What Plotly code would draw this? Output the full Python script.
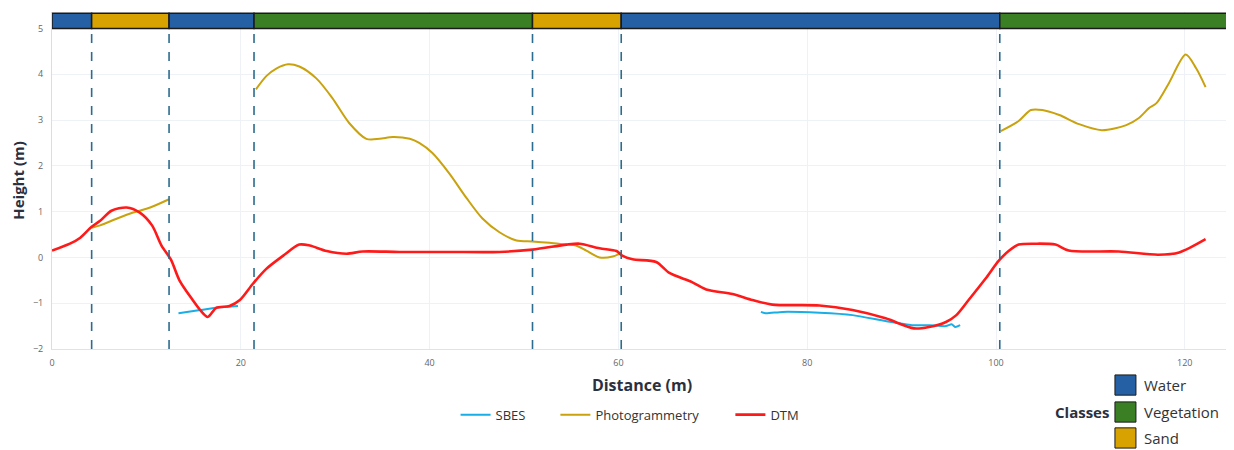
import plotly.graph_objects as go

# ---------------- data ----------------
dtm_x = [0, 1.9, 3.0, 4.2, 5.1, 6.3, 7.9, 9.3, 10.6, 11.6, 12.6, 13.5, 14.9, 15.7, 16.5,
         17.4, 18.8, 19.9, 21.3, 22.7, 24.5, 26.2, 27.3, 29.1, 31.2, 32.9, 36.8, 42.0, 47.4,
         50.9, 54.5, 55.9, 58.0, 59.8, 60.4, 61.5, 64.0, 65.4, 67.8, 69.3, 72.1, 74.2, 76.3,
         81.3, 84.8, 88.3, 91.3, 92.9, 94.7, 95.8, 97.1, 98.9, 100.3, 101.4, 102.4, 104.2,
         106.3, 107.7, 113.0, 117.2, 119.4, 122.2]
dtm_y = [0.15, 0.30, 0.43, 0.67, 0.80, 1.02, 1.09, 0.98, 0.70, 0.26, -0.05, -0.50, -0.93, -1.15, -1.30,
         -1.10, -1.06, -0.93, -0.57, -0.25, 0.04, 0.28, 0.26, 0.14, 0.08, 0.13, 0.12, 0.12, 0.12,
         0.17, 0.28, 0.30, 0.20, 0.14, 0.04, -0.04, -0.10, -0.34, -0.54, -0.70, -0.80, -0.93, -1.03,
         -1.05, -1.15, -1.33, -1.55, -1.52, -1.41, -1.26, -0.93, -0.46, -0.07, 0.15, 0.28, 0.30,
         0.28, 0.15, 0.13, 0.06, 0.11, 0.40]

photo_x = [4.2, 5.1, 6.9, 8.6, 10.4, 12.4, None,
           21.6, 22.7, 23.8, 25.0, 26.2, 28.0, 29.7, 31.5, 33.3, 34.7, 36.1, 37.9, 38.9, 40.3,
           42.1, 43.9, 45.6, 47.4, 49.2, 50.9, 52.7, 54.5, 55.5, 56.6, 58.0, 59.4, 60.3, None,
           100.5, 102.4, 103.7, 104.9, 106.7, 108.8, 111.2, 113.8, 115.1, 116.2, 117.0, 118.3,
           120.1, 121.2, 122.2]
photo_y = [0.65, 0.70, 0.85, 0.98, 1.09, 1.27, None,
           3.67, 3.96, 4.13, 4.22, 4.17, 3.91, 3.48, 2.93, 2.59, 2.59, 2.63, 2.59, 2.50, 2.28,
           1.83, 1.30, 0.85, 0.55, 0.37, 0.35, 0.32, 0.28, 0.26, 0.15, 0.00, 0.02, 0.10, None,
           2.76, 2.98, 3.22, 3.22, 3.11, 2.91, 2.78, 2.89, 3.04, 3.26, 3.37, 3.80,
           4.43, 4.13, 3.72]

sbes_x = [13.4, 15.7, 17.8, 19.7, None,
          75.1, 75.6, 77.4, 81.3, 84.8, 88.3, 91.1, 92.9, 94.7, 95.3, 95.7, 96.2]
sbes_y = [-1.22, -1.15, -1.09, -1.06, None,
          -1.19, -1.22, -1.19, -1.21, -1.26, -1.39, -1.48, -1.48, -1.50, -1.46, -1.52, -1.48]

class_start = [0, 4.2, 12.4, 21.4, 50.9, 60.3, 100.4]
class_end = [4.2, 12.4, 21.4, 50.9, 60.3, 100.4, 125]
class_name = ["Water", "Sand", "Water", "Vegetation", "Sand", "Water", "Vegetation"]
boundaries = [4.2, 12.4, 21.4, 50.9, 60.3, 100.4]

legend_classes = ["Water", "Vegetation", "Sand"]
class_colors = {"Water": "#2660a4", "Vegetation": "#3b7f25", "Sand": "#d8a300"}

FONT = "Open Sans"

fig = go.Figure()
fig.add_trace(go.Scatter(x=sbes_x, y=sbes_y, mode="lines", name="SBES", legend="legend",
                         line=dict(color="#19aee6", width=2, shape="spline", smoothing=0.6),
                         connectgaps=False))
fig.add_trace(go.Scatter(x=photo_x, y=photo_y, mode="lines", name="Photogrammetry", legend="legend2",
                         line=dict(color="#c9a20e", width=2, shape="spline", smoothing=0.8),
                         connectgaps=False))
fig.add_trace(go.Scatter(x=dtm_x, y=dtm_y, mode="lines", name="DTM", legend="legend3",
                         line=dict(color="#ff1a1a", width=2.6, shape="spline", smoothing=0.8)))

shapes = []
for b in boundaries:
    shapes.append(dict(type="line", xref="x", yref="y", x0=b, x1=b, y0=-2, y1=5,
                       line=dict(color="#2b6c8f", width=1.6, dash="dash"), layer="above"))
for s, e, n in zip(class_start, class_end, class_name):
    shapes.append(dict(type="rect", xref="x", yref="y", x0=s, x1=e, y0=5.0, y1=5.33,
                       fillcolor=class_colors[n], line=dict(color="#1a1a1a", width=1.5),
                       layer="above"))

# class legend (bottom right)
annotations = []
box_y = [(-0.077, -0.137), (-0.157, -0.217), (-0.234, -0.294)]
for n, (y1, y0) in zip(legend_classes, box_y):
    shapes.append(dict(type="rect", xref="paper", yref="paper",
                       x0=0.9008, x1=0.9186, y0=y0, y1=y1,
                       fillcolor=class_colors[n], line=dict(color="#1a1a1a", width=1)))
    annotations.append(dict(xref="paper", yref="paper", x=0.924, y=(y0 + y1) / 2, text=n,
                            showarrow=False, xanchor="left", yanchor="middle",
                            font=dict(family=FONT, size=15, color="#333333")))
annotations.append(dict(xref="paper", yref="paper", x=0.8975, y=-0.187, text="<b>Classes</b>",
                        showarrow=False, xanchor="right", yanchor="middle",
                        font=dict(family=FONT, size=15, color="#2b3040")))

leg_common = dict(orientation="h", y=-0.195, yanchor="middle", xanchor="left",
                  font=dict(family=FONT, size=13, color="#333333"),
                  bgcolor="rgba(0,0,0,0)")

fig.update_layout(
    width=1226, height=442,
    margin=dict(l=44, r=2, t=4, b=101),
    paper_bgcolor="white", plot_bgcolor="white",
    font=dict(family=FONT, color="#555555"),
    shapes=shapes, annotations=annotations,
    showlegend=True,
    legend=dict(x=0.342, **leg_common),
    legend2=dict(x=0.4266, **leg_common),
    legend3=dict(x=0.5749, **leg_common),
    xaxis=dict(range=[0, 125], tickvals=[0, 20, 40, 60, 80, 100, 120],
               showgrid=True, gridcolor="#eef1f6", zeroline=False,
               showline=True, linecolor="#dde3ec", ticks="", ticklabelstandoff=5,
               tickfont=dict(size=9, color="#666666"),
               title=dict(text="<b>Distance (m)</b>", font=dict(family=FONT, size=16, color="#2b3040"),
                          standoff=12)),
    yaxis=dict(range=[-2, 5.36], tickvals=[-2, -1, 0, 1, 2, 3, 4, 5],
               showgrid=True, gridcolor="#eef1f6", zeroline=False,
               showline=True, linecolor="#cfe0f5", ticks="", ticklabelstandoff=6,
               tickfont=dict(size=9, color="#666666"),
               title=dict(text="<b>Height (m)</b>", font=dict(family=FONT, size=15, color="#2b3040"),
                          standoff=10)),
)

fig.write_html("out.html")
